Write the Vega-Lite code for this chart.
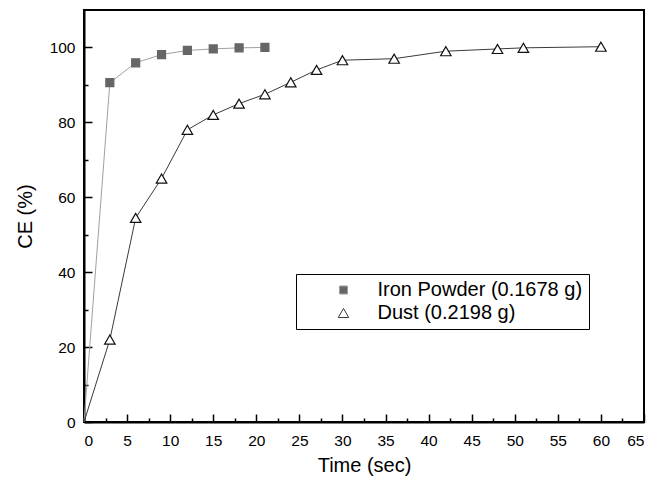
{
  "$schema": "https://vega.github.io/schema/vega-lite/v6.json",
  "width": 560,
  "height": 412,
  "autosize": {"type": "none"},
  "padding": {"left": 84, "top": 10, "right": 27, "bottom": 62},
  "background": "white",
  "config": {
    "view": {"stroke": "black", "strokeWidth": 2},
    "font": "Liberation Sans",
    "axis": {
      "labelFont": "Liberation Sans",
      "titleFont": "Liberation Sans",
      "labelColor": "black",
      "titleColor": "black",
      "titleFontWeight": "normal",
      "domainColor": "black",
      "domainWidth": 2,
      "tickColor": "black",
      "tickWidth": 1.5,
      "grid": false,
      "labelFontSize": 15.5
    }
  },
  "data": {
    "values": [
      {"series": "Iron Powder (0.1678 g)", "t": 0, "ce": 0},
      {"series": "Iron Powder (0.1678 g)", "t": 3, "ce": 90.6},
      {"series": "Iron Powder (0.1678 g)", "t": 6, "ce": 95.9},
      {"series": "Iron Powder (0.1678 g)", "t": 9, "ce": 98.1},
      {"series": "Iron Powder (0.1678 g)", "t": 12, "ce": 99.2},
      {"series": "Iron Powder (0.1678 g)", "t": 15, "ce": 99.6},
      {"series": "Iron Powder (0.1678 g)", "t": 18, "ce": 99.9},
      {"series": "Iron Powder (0.1678 g)", "t": 21, "ce": 100},
      {"series": "Dust (0.2198 g)", "t": 0, "ce": 0},
      {"series": "Dust (0.2198 g)", "t": 3, "ce": 22},
      {"series": "Dust (0.2198 g)", "t": 6, "ce": 54.5},
      {"series": "Dust (0.2198 g)", "t": 9, "ce": 65},
      {"series": "Dust (0.2198 g)", "t": 12, "ce": 78},
      {"series": "Dust (0.2198 g)", "t": 15, "ce": 82},
      {"series": "Dust (0.2198 g)", "t": 18, "ce": 85},
      {"series": "Dust (0.2198 g)", "t": 21, "ce": 87.5},
      {"series": "Dust (0.2198 g)", "t": 24, "ce": 90.7},
      {"series": "Dust (0.2198 g)", "t": 27, "ce": 94},
      {"series": "Dust (0.2198 g)", "t": 30, "ce": 96.6},
      {"series": "Dust (0.2198 g)", "t": 36, "ce": 97},
      {"series": "Dust (0.2198 g)", "t": 42, "ce": 99},
      {"series": "Dust (0.2198 g)", "t": 48, "ce": 99.6},
      {"series": "Dust (0.2198 g)", "t": 51, "ce": 99.9},
      {"series": "Dust (0.2198 g)", "t": 60, "ce": 100.2}
    ]
  },
  "resolve": {"axis": {"x": "independent", "y": "independent"}},
  "layer": [
    {
      "mark": {"type": "rule", "strokeWidth": 0},
      "encoding": {
        "x": {"datum": 0, "type": "quantitative", "scale": {"domain": [0, 65], "nice": false},
          "axis": {"orient": "bottom", "values": [2.5,7.5,12.5,17.5,22.5,27.5,32.5,37.5,42.5,47.5,52.5,57.5,62.5], "labels": false, "tickSize": -4, "domain": false, "title": null}},
        "y": {"datum": 0, "type": "quantitative", "scale": {"domain": [0, 110], "nice": false},
          "axis": {"orient": "left", "values": [10,30,50,70,90], "labels": false, "tickSize": -4, "domain": false, "title": null}}
      }
    },
    {
      "mark": {"type": "line", "strokeWidth": 1},
      "encoding": {
        "x": {"field": "t", "type": "quantitative", "scale": {"domain": [0, 65], "nice": false},
          "axis": {"orient": "bottom", "values": [0,5,10,15,20,25,30,35,40,45,50,55,60,65], "tickSize": -8, "labelPadding": 19, "title": "Time (sec)", "titleFontSize": 20, "titlePadding": 7}},
        "y": {"field": "ce", "type": "quantitative", "scale": {"domain": [0, 110], "nice": false},
          "axis": {"orient": "left", "values": [0,20,40,60,80,100], "tickSize": -8, "labelPadding": 17, "title": "CE (%)", "titleFontSize": 20, "titlePadding": 14}},
        "color": {"field": "series", "type": "nominal",
          "scale": {"domain": ["Iron Powder (0.1678 g)", "Dust (0.2198 g)"], "range": ["#a0a0a0", "#3a3a3a"]},
          "legend": {
            "orient": "none", "legendX": 212, "legendY": 264,
            "title": null, "strokeColor": "black", "fillColor": "white",
            "padding": 6, "labelFontSize": 20, "labelFont": "Liberation Sans", "labelColor": "black",
            "labelLimit": 500,
            "symbolSize": 576, "symbolOffset": 31.5, "labelOffset": 24, "rowPadding": 3,
            "symbolStrokeWidth": 1
          }},
        "detail": {"field": "series"}
      }
    },
    {
      "transform": [{"filter": "datum.t > 0"}],
      "mark": {"type": "point", "filled": false, "opacity": 1, "strokeWidth": 1.2},
      "encoding": {
        "x": {"field": "t", "type": "quantitative", "axis": null},
        "y": {"field": "ce", "type": "quantitative", "axis": null},
        "shape": {"field": "series", "type": "nominal", "legend": null,
          "scale": {"domain": ["Iron Powder (0.1678 g)", "Dust (0.2198 g)"], "range": ["square", "triangle-up"]}},
        "fill": {"field": "series", "type": "nominal", "legend": null,
          "scale": {"domain": ["Iron Powder (0.1678 g)", "Dust (0.2198 g)"], "range": ["#666666", "white"]}},
        "stroke": {"field": "series", "type": "nominal", "legend": null,
          "scale": {"domain": ["Iron Powder (0.1678 g)", "Dust (0.2198 g)"], "range": ["#666666", "#111111"]}},
        "size": {"field": "series", "type": "nominal", "legend": null,
          "scale": {"domain": ["Iron Powder (0.1678 g)", "Dust (0.2198 g)"], "range": [64, 110]}}
      }
    }
  ]
}
